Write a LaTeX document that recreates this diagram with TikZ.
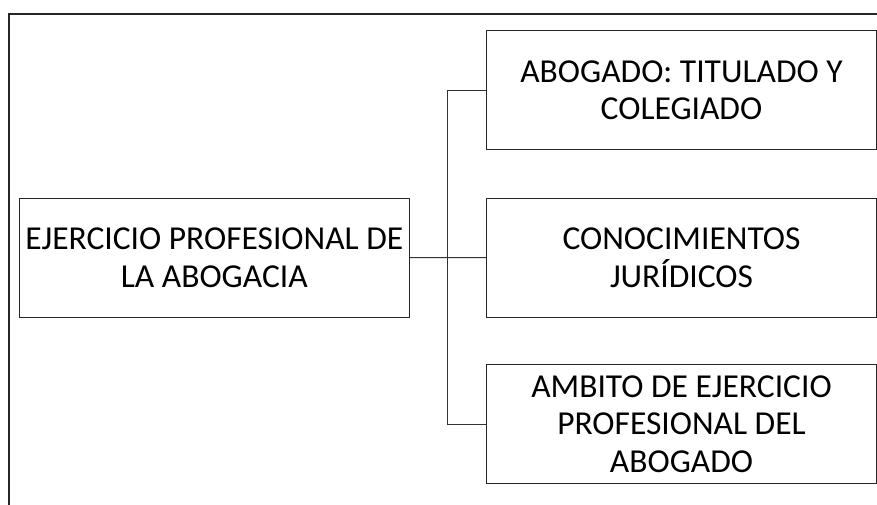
\documentclass[tikz,border=0pt]{standalone}
\usepackage{fontspec}
\setmainfont{Carlito}
\usepackage{tikz}

\tikzset{
  caja/.style={draw=black!85, line width=1pt, align=center, inner sep=0pt,
    minimum width=390pt, minimum height=119pt,
    font=\fontsize{33.5}{37.5}\selectfont},
  enlace/.style={draw=black!80, line width=1pt},
}

\begin{document}
\begin{tikzpicture}[x=1pt,y=1pt,yscale=-1,xscale=1]
\useasboundingbox (0,0) rectangle (877,505);

%Shape: Frame
\draw [line width=1.4pt, black!85]  (9,506) -- (9,14) -- (877,14) ;

% Text Node
\node [caja, minimum width=389.5pt] (ejercicio) at (214.3,257.5) {EJERCICIO PROFESIONAL DE\\LA ABOGACIA};
% Text Node
\node [caja] (abogado) at (681.5,90.2) {ABOGADO: TITULADO Y\\COLEGIADO};
% Text Node
\node [caja] (conocimientos) at (681.5,257.7) {CONOCIMIENTOS\\JURÍDICOS};
% Text Node
\node [caja] (ambito) at (681.5,424.2) {AMBITO DE EJERCICIO\\PROFESIONAL DEL\\ABOGADO};

%Lines
\coordinate (bus) at (447.3,257.5);
\draw [enlace]  (ejercicio.east) -- (conocimientos.west) ;
\draw [enlace]  (abogado.west) -| (bus) |- (ambito.west) ;

\end{tikzpicture}
\end{document}
